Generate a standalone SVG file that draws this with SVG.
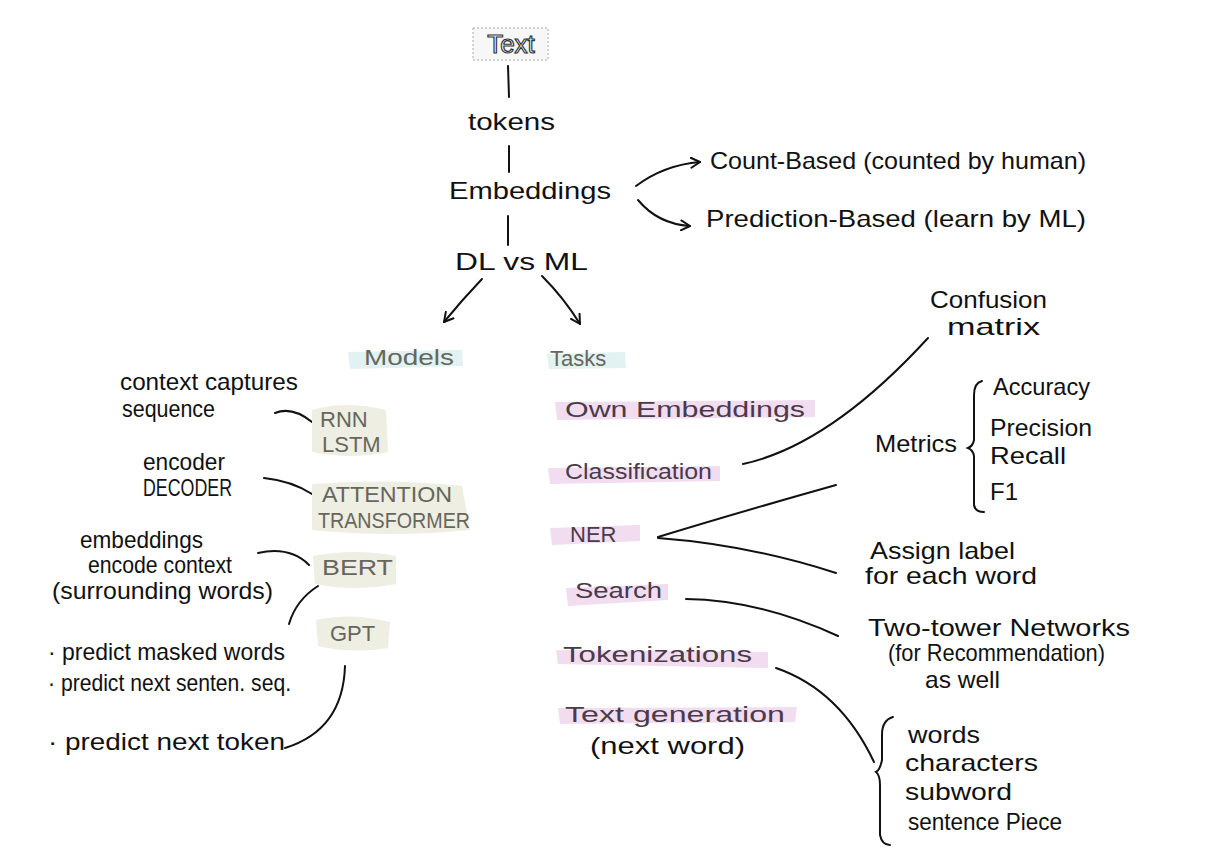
<svg xmlns="http://www.w3.org/2000/svg" width="1210" height="855" viewBox="0 0 1210 855">
<style>
.t{font-family:"Liberation Sans",Arial,sans-serif;fill:#111;font-size:24px}
.g{font-family:"Liberation Sans",Arial,sans-serif;fill:#66665c;font-size:22px}
.p{font-family:"Liberation Sans",Arial,sans-serif;fill:#4a3a4a;font-size:22px}
.c{fill:none;stroke:#111;stroke-width:2;stroke-linecap:round}
.hb{fill:#e2f1f1}
.hp{fill:#f2ddf0}
.hy{fill:#eeeee3}
</style>
<defs>
<marker id="ah" viewBox="0 0 12 12" refX="10" refY="6" markerWidth="12" markerHeight="12" markerUnits="userSpaceOnUse" orient="auto">
<path d="M1,1 L10,6 L1,11" fill="none" stroke="#111" stroke-width="2" stroke-linecap="round" stroke-linejoin="round"/>
</marker>
</defs>
<rect width="1210" height="855" fill="#fff"/>

<g id="connectors">
<path class="c" d="M508,66 L509,97"/>
<path class="c" d="M509,146 L509,172"/>
<path class="c" d="M508,216 L508,245"/>
<path class="c" d="M482,279 Q462,300 444,322" marker-end="url(#ah)"/>
<path class="c" d="M542,276 Q564,298 580,324" marker-end="url(#ah)"/>
<path class="c" d="M636,186 Q664,165 700,162" marker-end="url(#ah)"/>
<path class="c" d="M638,200 Q658,224 690,226" marker-end="url(#ah)"/>
<path class="c" d="M275,413 Q292,406 312,422"/>
<path class="c" d="M264,478 Q292,481 312,494"/>
<path class="c" d="M258,553 Q290,546 309,565"/>
<path class="c" d="M318,586 Q296,600 289,624"/>
<path class="c" d="M345,666 Q343,730 285,748"/>
<path class="c" d="M743,464 Q830,445 928,338"/>
<path class="c" d="M658,537 Q740,512 836,485"/>
<path class="c" d="M658,538 Q750,545 836,573"/>
<path class="c" d="M686,599 Q760,600 838,636"/>
<path class="c" d="M776,668 Q840,690 874,762"/>
<path class="c" d="M982,381 Q974,383 974,395 L974,440 Q973,446 968,448 Q973,450 974,456 L974,505 Q975,512 984,512"/>
<path class="c" d="M893,717 Q882,720 882,735 L882,760 Q880,770 876,772 Q880,775 880,785 L880,835 Q882,845 890,845"/>
</g>

<g id="node-text">
<rect x="473" y="28" width="75" height="32" fill="#f7f7f7" stroke="#aaa" stroke-width="1" stroke-dasharray="2,2"/>
<text x="511" y="53" text-anchor="middle" font-family="Liberation Sans,Arial,sans-serif" font-size="26" fill="#fff" stroke="#333" stroke-width="1.2">Text</text>
</g>
<g id="node-tokens"><text class="t" x="468" y="130" font-size="28" textLength="87" lengthAdjust="spacingAndGlyphs">tokens</text></g>
<g id="node-embeddings"><text class="t" x="530" y="199" text-anchor="middle" font-size="28" textLength="162" lengthAdjust="spacingAndGlyphs">Embeddings</text></g>
<g id="node-dlml"><text class="t" x="455" y="270" font-size="26" textLength="133" lengthAdjust="spacingAndGlyphs">DL vs ML</text></g>
<g id="node-count"><text class="t" x="710" y="169" font-size="27" textLength="376" lengthAdjust="spacingAndGlyphs">Count-Based (counted by human)</text></g>
<g id="node-prediction"><text class="t" x="706" y="227" font-size="27" textLength="380" lengthAdjust="spacingAndGlyphs">Prediction-Based (learn by ML)</text></g>

<g id="node-models">
<path class="hb" d="M348,352 L462,350 L463,366 L350,369 Z"/>
<text class="g" x="364" y="365" font-size="24" textLength="90" lengthAdjust="spacingAndGlyphs">Models</text>
</g>
<g id="node-tasks">
<path class="hb" d="M547,354 L625,352 L626,368 L549,369 Z"/>
<text class="g" x="550" y="366" font-size="22">Tasks</text>
</g>

<g id="node-context"><text class="t" x="120" y="390" font-size="19" textLength="178" lengthAdjust="spacingAndGlyphs">context captures</text><text class="t" x="122" y="417" font-size="18" textLength="93" lengthAdjust="spacingAndGlyphs">sequence</text></g>
<g id="node-rnn">
<path class="hy" d="M312,410 Q345,400 386,410 L388,452 Q350,460 312,452 Z"/>
<text class="g" x="320" y="427" font-size="21">RNN</text><text class="g" x="322" y="452" font-size="18">LSTM</text>
</g>
<g id="node-encoder"><text class="t" x="143" y="470" font-size="19" textLength="82" lengthAdjust="spacingAndGlyphs">encoder</text><text class="t" x="143" y="496" font-size="15" textLength="89" lengthAdjust="spacingAndGlyphs">DECODER</text></g>
<g id="node-attention">
<path class="hy" d="M312,484 Q390,478 462,486 L470,530 Q390,538 312,530 Z"/>
<text class="g" x="322" y="502" font-size="20" textLength="130" lengthAdjust="spacingAndGlyphs">ATTENTION</text>
<text class="g" x="318" y="528" font-size="19" textLength="152" lengthAdjust="spacingAndGlyphs">TRANSFORMER</text>
</g>
<g id="node-embctx"><text class="t" x="80" y="548" font-size="20" textLength="123" lengthAdjust="spacingAndGlyphs">embeddings</text><text class="t" x="88" y="573" font-size="21" textLength="144" lengthAdjust="spacingAndGlyphs">encode context</text><text class="t" x="52" y="599" font-size="22" textLength="221" lengthAdjust="spacingAndGlyphs">(surrounding words)</text></g>
<g id="node-bert">
<path class="hy" d="M313,556 Q355,548 396,556 L396,584 Q355,592 315,584 Z"/>
<text class="g" x="322" y="575" textLength="71" lengthAdjust="spacingAndGlyphs">BERT</text>
</g>
<g id="node-gpt">
<path class="hy" d="M316,620 Q352,612 390,622 L388,648 Q352,654 318,646 Z"/>
<text class="g" x="330" y="641" font-size="20">GPT</text>
</g>
<g id="node-bertpred"><text class="t" x="48" y="660" font-size="22" textLength="237" lengthAdjust="spacingAndGlyphs">· predict masked words</text><text class="t" x="48" y="691" font-size="22" textLength="243" lengthAdjust="spacingAndGlyphs">· predict next senten. seq.</text></g>
<g id="node-gptpred"><text class="t" x="48" y="750" font-size="25" textLength="237" lengthAdjust="spacingAndGlyphs">· predict next token</text></g>

<g id="node-own">
<path class="hp" d="M555,402 L815,400 L815,417 L557,420 Z"/>
<text class="p" x="565" y="417" textLength="240" lengthAdjust="spacingAndGlyphs">Own Embeddings</text>
</g>
<g id="node-classification">
<path class="hp" d="M548,468 L720,466 L720,481 L550,484 Z"/>
<text class="p" x="565" y="479" font-size="21" textLength="147" lengthAdjust="spacingAndGlyphs">Classification</text>
</g>
<g id="node-ner">
<path class="hp" d="M550,528 L640,525 L640,541 L552,545 Z"/>
<text class="p" x="570" y="542" font-size="24">NER</text>
</g>
<g id="node-search">
<path class="hp" d="M566,588 L668,584 L668,600 L568,606 Z"/>
<text class="p" x="575" y="598" textLength="87" lengthAdjust="spacingAndGlyphs">Search</text>
</g>
<g id="node-tokenizations">
<path class="hp" d="M556,650 L768,652 L768,668 L558,664 Z"/>
<text class="p" x="563" y="662" font-size="23" textLength="189" lengthAdjust="spacingAndGlyphs">Tokenizations</text>
</g>
<g id="node-textgen">
<path class="hp" d="M558,708 L797,707 L795,722 L560,724 Z"/>
<text class="p" x="565" y="722" font-size="23" textLength="220" lengthAdjust="spacingAndGlyphs">Text generation</text>
<text class="t" x="590" y="754" font-size="23" textLength="155" lengthAdjust="spacingAndGlyphs">(next word)</text>
</g>

<g id="node-confusion"><text class="t" x="930" y="308" font-size="24" textLength="117" lengthAdjust="spacingAndGlyphs">Confusion</text><text class="t" x="947" y="335" font-size="22" textLength="93" lengthAdjust="spacingAndGlyphs">matrix</text></g>
<g id="node-metrics">
<text class="t" x="875" y="452" font-size="23" textLength="82" lengthAdjust="spacingAndGlyphs">Metrics</text>
<text class="t" x="993" y="395" font-size="23" textLength="97" lengthAdjust="spacingAndGlyphs">Accuracy</text>
<text class="t" x="990" y="436" font-size="22" textLength="102" lengthAdjust="spacingAndGlyphs">Precision</text>
<text class="t" x="990" y="464" font-size="22" textLength="76" lengthAdjust="spacingAndGlyphs">Recall</text>
<text class="t" x="990" y="500" font-size="23">F1</text>
</g>
<g id="node-assign"><text class="t" x="870" y="559" font-size="21" textLength="145" lengthAdjust="spacingAndGlyphs">Assign label</text><text class="t" x="865" y="584" font-size="21" textLength="172" lengthAdjust="spacingAndGlyphs">for each word</text></g>
<g id="node-twotower"><text class="t" x="868" y="636" font-size="22" textLength="262" lengthAdjust="spacingAndGlyphs">Two-tower  Networks</text><text class="t" x="888" y="661" font-size="17" textLength="217" lengthAdjust="spacingAndGlyphs">(for Recommendation)</text><text class="t" x="925" y="688" font-size="17" textLength="75" lengthAdjust="spacingAndGlyphs">as well</text></g>
<g id="node-tokentypes">
<text class="t" x="908" y="743" font-size="23" textLength="72" lengthAdjust="spacingAndGlyphs">words</text>
<text class="t" x="905" y="771" font-size="23" textLength="133" lengthAdjust="spacingAndGlyphs">characters</text>
<text class="t" x="905" y="800" font-size="23" textLength="107" lengthAdjust="spacingAndGlyphs">subword</text>
<text class="t" x="908" y="830" font-size="22" textLength="154" lengthAdjust="spacingAndGlyphs">sentence Piece</text>
</g>
</svg>
